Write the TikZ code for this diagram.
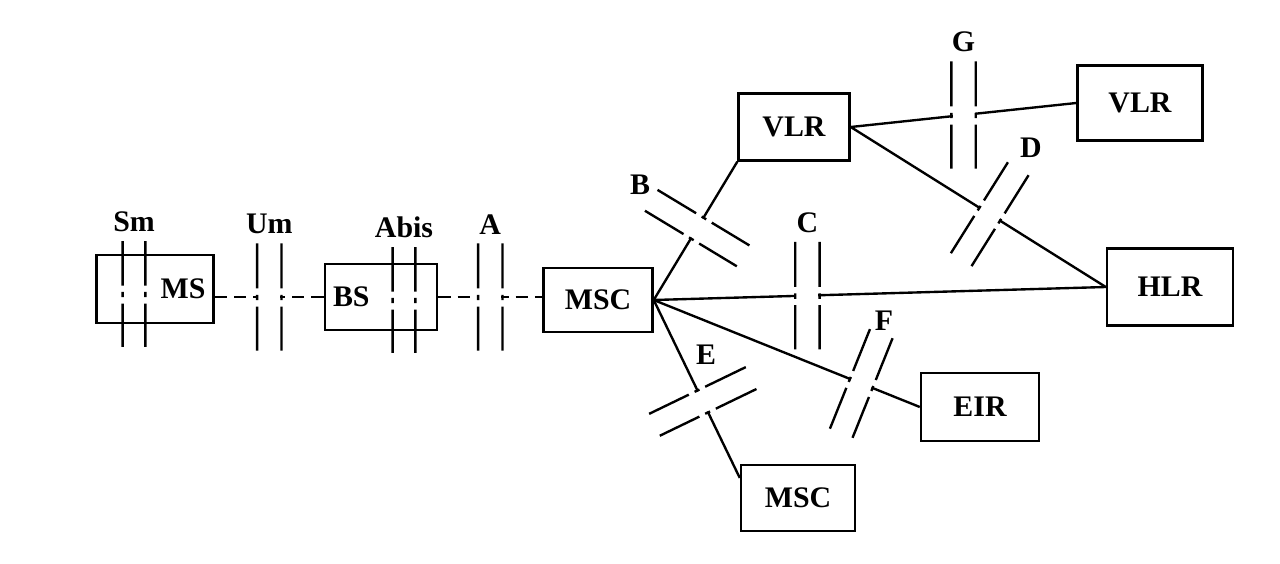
\documentclass[tikz,border=0pt]{standalone}
\usepackage{fontspec}
\setmainfont{Liberation Serif}
\usetikzlibrary{positioning, calc}
\tikzset{
  box/.style={draw, rectangle, line width=1.4pt, inner xsep=0.16cm, font=\fontsize{17}{20}\selectfont\bfseries},
  itf/.style={rectangle, inner sep=0pt, minimum width=0.44cm, minimum height=2.1cm},
  lbl/.style={font=\fontsize{17}{20}\selectfont\bfseries, inner sep=1pt},
  wire/.style={line width=1.35pt},
  dwire/.style={wire, dash pattern=on 7pt off 4pt},
}
\newcommand{\bars}[1]{%
  \foreach \sd in {west,east} {
    \draw[wire] (#1.north \sd) -- ($(#1.north \sd)!.42!(#1.south \sd)$)
      ($(#1.north \sd)!.48!(#1.south \sd)$) -- ($(#1.north \sd)!.53!(#1.south \sd)$)
      ($(#1.north \sd)!.59!(#1.south \sd)$) -- (#1.south \sd);
  }}

\begin{document}
\begin{tikzpicture}[x=0.02cm, y=-0.02cm]
  \useasboundingbox (0,0) rectangle (1280,564);
  % blocks
  \node[box, minimum width=2.34cm, minimum height=1.36cm, text width=2.02cm, align=right] (MS) at (155,289) {MS};
  \node[box, minimum width=2.24cm, minimum height=1.32cm, text width=1.92cm, align=left] (BS) at (381,297) {BS};
  \node[box, minimum width=2.18cm, minimum height=1.28cm] (MSC) at (598,300) {MSC};
  \node[box, minimum width=2.22cm, minimum height=1.34cm] (VLRa) at (794,127) {VLR};
  \node[box, minimum width=2.5cm, minimum height=1.5cm] (VLRb) at (1140,103) {VLR};
  \node[box, minimum width=2.52cm, minimum height=1.54cm] (HLR) at (1170,287) {HLR};
  \node[box, minimum width=2.36cm, minimum height=1.36cm] (EIR) at (980,407) {EIR};
  \node[box, minimum width=2.28cm, minimum height=1.32cm] (MSCb) at (798,498) {MSC};
  \coordinate (m) at (MSC.east);
  % links with interfaces
  \draw[dwire] (MS.east |- BS.west) -- node[itf, fill=white] (Um) {} (BS.west);
  \draw[dwire] (BS.east) -- node[itf, fill=white] (A) {} (BS.east -| MSC.west);
  \draw[wire] (m) -- node[itf, fill=white, sloped, pos=.52] (B) {} (VLRa.south west);
  \draw[wire] (m) -- node[itf, fill=white, pos=.34] (C) {} (HLR.west);
  \draw[wire] (m) -- node[itf, fill=white, sloped, pos=.57] (E) {} (MSCb.161);
  \draw[wire] (m) -- node[itf, fill=white, sloped, pos=.78] (F) {} (EIR.west);
  \draw[wire] (VLRa.east) -- node[itf, fill=white, pos=.5] (G) {} (VLRb.west);
  \draw[wire] (VLRa.east) -- node[itf, fill=white, sloped, pos=.545] (D) {} (HLR.west);
  \node[itf] (Sm) at (134,294) {};
  \node[itf] (Abis) at (404,300) {};
  \foreach \n in {Sm,Um,Abis,A,B,C,D,E,F,G} \bars{\n};
  % labels
  \node[lbl, above=4pt of Sm] (lSm) {Sm};
  \node[lbl, above=4pt of Um] (lUm) {Um};
  \node[lbl, above=4pt of Abis] (lAbis) {Abis};
  \node[lbl, above=4pt of A] (lA) {A};
  \node[lbl, above=4pt of C] (lC) {C};
  \node[lbl, above=4pt of G] (lG) {G};
  \node[lbl] (lB) at (640,185) {B};
  \node[lbl] (lD) at (1031,148) {D};
  \node[lbl] (lE) at (706,355) {E};
  \node[lbl] (lF) at (884,321) {F};
\end{tikzpicture}
\end{document}
